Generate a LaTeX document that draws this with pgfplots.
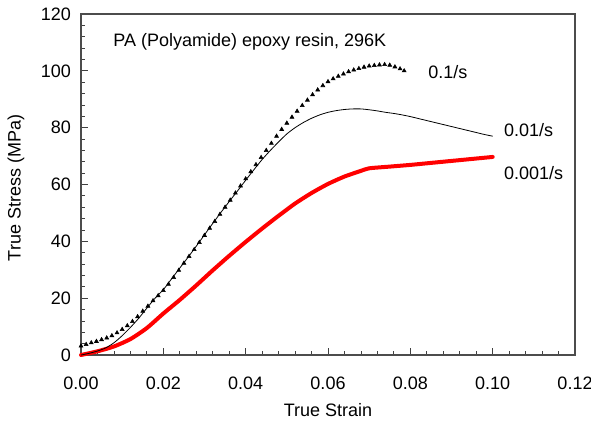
\documentclass[border=0pt]{standalone}
\usepackage{pgfplots}
\pgfplotsset{compat=1.18}
\usepackage{fontspec}
\setmainfont{Liberation Sans}
\newcommand{\fs}{\fontsize{13.5}{16}\selectfont}
\begin{document}
\begin{tikzpicture}
\begin{axis}[
  name=ax,
  scale only axis,
  width=370.5pt, height=255.75pt,
  xmin=0, xmax=0.12, ymin=0, ymax=120,
  xtick={0,0.02,...,0.12}, ytick={0,20,...,120},
  minor x tick num=4, minor y tick num=4,
  tick align=inside, xtick pos=bottom, ytick pos=left,
  major tick length=5pt, minor tick length=3.2pt,
  axis line style={black!70, line width=0.8pt},
  every tick/.style={black!75, line width=0.6pt},
  scaled x ticks=false,
  /pgf/number format/assume math mode=true,
  xticklabel style={font=\fs, yshift=-13pt},
  x tick label style={/pgf/number format/.cd, fixed, fixed zerofill, precision=2},
  yticklabel style={font=\fs, xshift=-4pt},
  xlabel={True Strain}, ylabel={True Stress (MPa)},
  xlabel style={font=\fs, at={(axis description cs:0.5,-0.161)}, anchor=center},
  ylabel style={font=\fs, at={(axis description cs:-0.1316,0.49)}, anchor=center},
  clip=false,
]
\addplot[red, line width=3pt, line cap=round, line join=round, smooth, tension=0.4] coordinates {
(0.000,0.0) (0.004,1.3) (0.008,3.0) (0.012,5.6) (0.016,9.5) (0.020,14.6)
(0.024,19.4) (0.028,24.5) (0.032,29.8) (0.036,34.9) (0.040,39.8) (0.044,44.5)
(0.048,49.0) (0.052,53.3) (0.056,57.0) (0.060,60.2) (0.064,62.8) (0.068,64.8)
(0.070,65.7) (0.075,66.3) (0.080,66.9) (0.085,67.6) (0.090,68.3) (0.095,69.0)
(0.100,69.7)
};
\addplot[black, line width=0.6pt, smooth, tension=0.4] coordinates {
(0.000,0.0) (0.002,0.6) (0.004,1.4) (0.006,2.5) (0.008,4.3) (0.010,6.8)
(0.012,9.7) (0.014,12.9) (0.016,16.5) (0.018,20.0) (0.020,23.0) (0.022,26.8)
(0.024,30.6) (0.026,34.4) (0.028,38.3) (0.030,42.3) (0.032,46.3) (0.034,50.2)
(0.036,54.0) (0.038,57.7) (0.040,61.5) (0.042,65.2) (0.044,68.8) (0.046,72.0)
(0.048,75.0) (0.050,77.8) (0.052,80.0) (0.054,81.8) (0.056,83.3) (0.058,84.5)
(0.060,85.4) (0.062,86.0) (0.064,86.4) (0.066,86.6) (0.068,86.6) (0.070,86.3)
(0.072,85.9) (0.074,85.4) (0.076,85.0) (0.078,84.5) (0.080,83.9) (0.082,83.2)
(0.084,82.5) (0.086,81.8) (0.088,81.1) (0.090,80.4) (0.092,79.7) (0.094,79.0)
(0.096,78.3) (0.098,77.6) (0.100,77.0)
};
\addplot[only marks, mark=triangle*, mark size=1.7pt, black] coordinates {
(0.00000,3.2) (0.00125,3.7) (0.00250,4.3) (0.00375,4.8) (0.00500,5.4) (0.00625,6.0)
(0.00750,6.8) (0.00875,7.8) (0.01000,9.0) (0.01125,10.3) (0.01250,11.8) (0.01375,13.5)
(0.01500,15.4) (0.01625,17.2) (0.01750,19.1) (0.01875,20.9) (0.02000,22.7) (0.02125,24.9)
(0.02250,27.3) (0.02375,29.8) (0.02500,32.3) (0.02625,34.7) (0.02750,37.1) (0.02875,39.6)
(0.03000,42.1) (0.03125,44.6) (0.03250,47.0) (0.03375,49.5) (0.03500,52.0) (0.03625,54.5)
(0.03750,57.0) (0.03875,59.5) (0.04000,62.0) (0.04125,64.5) (0.04250,67.0) (0.04375,69.5)
(0.04500,72.0) (0.04625,74.5) (0.04750,77.0) (0.04875,79.4) (0.05000,81.6) (0.05125,83.7)
(0.05250,85.8) (0.05375,87.8) (0.05500,89.7) (0.05625,91.6) (0.05750,93.3) (0.05875,94.8)
(0.06000,96.2) (0.06125,97.2) (0.06250,98.1) (0.06375,98.9) (0.06500,99.7) (0.06625,100.3)
(0.06750,100.8) (0.06875,101.3) (0.07000,101.7) (0.07125,101.9) (0.07250,102.1) (0.07375,102.2)
(0.07500,102.0) (0.07625,101.4) (0.07750,100.7) (0.07850,100.0)
};
\node[anchor=west, font=\fs, inner sep=0pt] at (axis cs:0.0078,110.3) {PA (Polyamide) epoxy resin, 296K};
\node[anchor=west, font=\fs, inner sep=0pt] at (axis cs:0.0843,99.6) {0.1/s};
\node[anchor=west, font=\fs, inner sep=0pt] at (axis cs:0.1027,79.2) {0.01/s};
\node[anchor=west, font=\fs, inner sep=0pt] at (axis cs:0.1027,64.0) {0.001/s};
\end{axis}
\pgfresetboundingbox
\path[use as bounding box] ([shift={(-60.75pt,-53.25pt)}]ax.south west) rectangle ([shift={(12pt,10.5pt)}]ax.north east);
\end{tikzpicture}
\end{document}
